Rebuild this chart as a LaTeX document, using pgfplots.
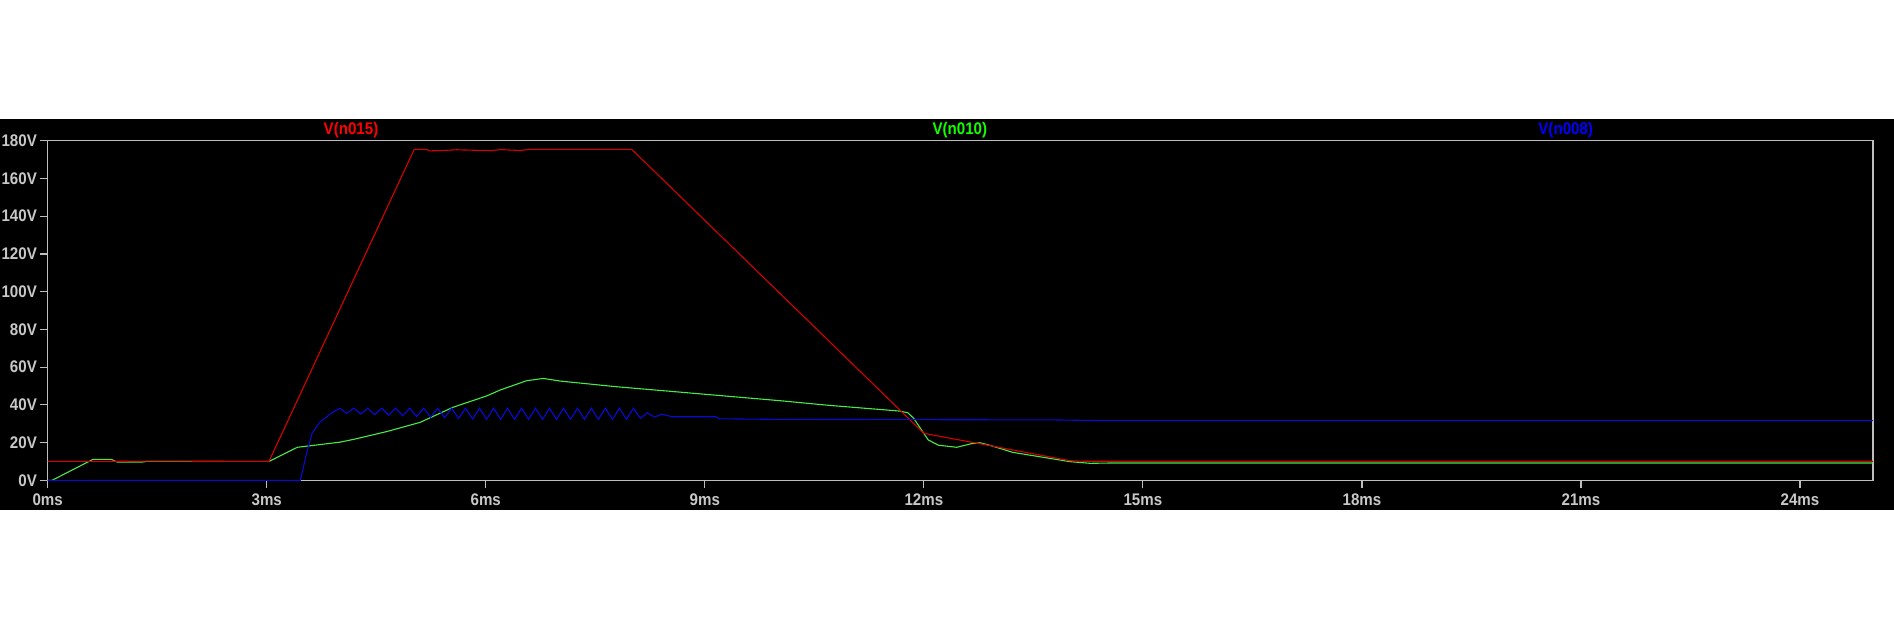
\documentclass[border=0pt]{standalone}
\usepackage{pgfplots}
\pgfplotsset{compat=1.18}
\usepackage{fontspec}
\setmainfont{Liberation Sans}[FakeStretch=0.9]
\definecolor{lbl}{RGB}{200,200,200}
\definecolor{frm}{RGB}{190,190,190}
\definecolor{tred}{RGB}{215,0,0}
\definecolor{tgreen}{RGB}{70,235,70}
\definecolor{tblue}{RGB}{10,10,215}
\begin{document}
\begin{tikzpicture}
\useasboundingbox (-23.85pt,-74.35pt) rectangle (923.15pt,240.15pt);
\fill[white] (-23.85pt,-74.35pt) rectangle (923.15pt,240.15pt);
\fill[black] (-23.85pt,-14.85pt) rectangle (923.15pt,180.65pt);
\begin{axis}[
  at={(0pt,0pt)}, anchor=south west,
  width=912.65pt, height=169.8pt, scale only axis,
  xmin=0, xmax=25, ymin=0, ymax=180,
  xtick={0,3,...,24},
  xticklabels={0ms,3ms,6ms,9ms,12ms,15ms,18ms,21ms,24ms},
  ytick={0,20,...,180},
  yticklabels={0V,20V,40V,60V,80V,100V,120V,140V,160V,180V},
  xtick pos=bottom, ytick pos=left,
  tick align=outside, major tick length=4pt,
  axis line style={frm, line width=0.6pt},
  every tick/.style={frm, line width=0.6pt},
  tick label style={font=\fontsize{8.4}{9}\selectfont\bfseries, text=lbl},
  xticklabel style={yshift=0.9pt},
  yticklabel style={anchor=east, inner sep=0pt, xshift=-1.2pt},
  every axis plot/.append style={line width=0.55pt},
]
% V(n010)
\addplot[tgreen] coordinates {
(0,0)(0.06,0)(0.62,11.1)(0.87,11.1)(0.95,9.7)(1.3,9.7)(1.35,10)(3.03,10)
(3.42,17.5)(4.0,20.2)(4.19,21.7)(4.64,25.8)(5.1,30.7)(5.55,38.7)(6.01,44.7)
(6.2,47.9)(6.56,52.8)(6.79,54.0)(7.02,52.6)(7.79,49.6)(8.43,47.5)(10.03,42.2)
(10.71,39.7)(11.67,36.7)(11.78,35.8)(11.86,32.9)(12.06,21.4)(12.2,18.6)
(12.45,17.5)(12.65,19.4)(12.77,19.9)(12.9,18.6)(13.22,14.8)(14.0,9.9)
(14.28,9.0)(14.6,9.2)(25,9.2)};
% V(n015)
\addplot[tred] coordinates {
(0,10)(0.55,10)(1.4,10.2)(3.03,10)(5.02,175.4)(5.2,175.4)(5.22,174.6)(5.4,174.8)(5.6,175.2)(6.07,174.7)(6.2,175.3)(6.47,174.8)(6.6,175.4)(8.0,175.4)
(12.0,24.9)(12.86,18.7)(14.0,10.4)(14.2,10.1)(25,10.1)};
% V(n008)
\addplot[tblue] coordinates {
(0,0)(3.46,0)(3.55,15)(3.62,24.9)(3.72,30.5)(3.82,33.7)(3.92,36.5)(4.0,38.2)
(4.096,35.5)(4.192,38.2)(4.288,35.2)(4.383,38.2)(4.479,34.8)(4.575,38.2)
(4.671,34.5)(4.766,38.2)(4.862,34.2)(4.958,38.2)(5.054,33.8)(5.149,38.2)
(5.245,33.5)(5.341,38.2)(5.437,33.2)(5.532,38.2)(5.628,32.8)(5.724,38.2)
(5.820,32.5)(5.915,38.2)(6.011,32.3)(6.107,38.2)(6.203,32.3)(6.298,38.2)
(6.394,32.3)(6.490,38.2)(6.586,32.3)(6.681,38.2)(6.777,32.3)(6.873,38.2)
(6.969,32.3)(7.064,38.2)(7.160,32.3)(7.256,38.2)(7.352,32.3)(7.447,38.2)
(7.543,32.3)(7.639,38.2)(7.735,32.3)(7.830,38.2)(7.926,32.3)(8.022,38.2)
(8.118,32.8)(8.21,35.8)(8.31,33.5)(8.41,35.1)(8.55,33.7)(9.15,33.7)(9.2,32.6)
(10,32.3)(13.8,32.0)(14.5,31.6)(25,31.6)};
\end{axis}
\node[anchor=base, text=red, font=\fontsize{8.4}{9}\selectfont\bfseries] at (151.65pt,173pt) {V(n015)};
\node[anchor=base, text=green!90!lime, font=\fontsize{8.4}{9}\selectfont\bfseries] at (456.05pt,173pt) {V(n010)};
\node[anchor=base, text=blue, font=\fontsize{8.4}{9}\selectfont\bfseries] at (759pt,173pt) {V(n008)};
\end{tikzpicture}
\end{document}
